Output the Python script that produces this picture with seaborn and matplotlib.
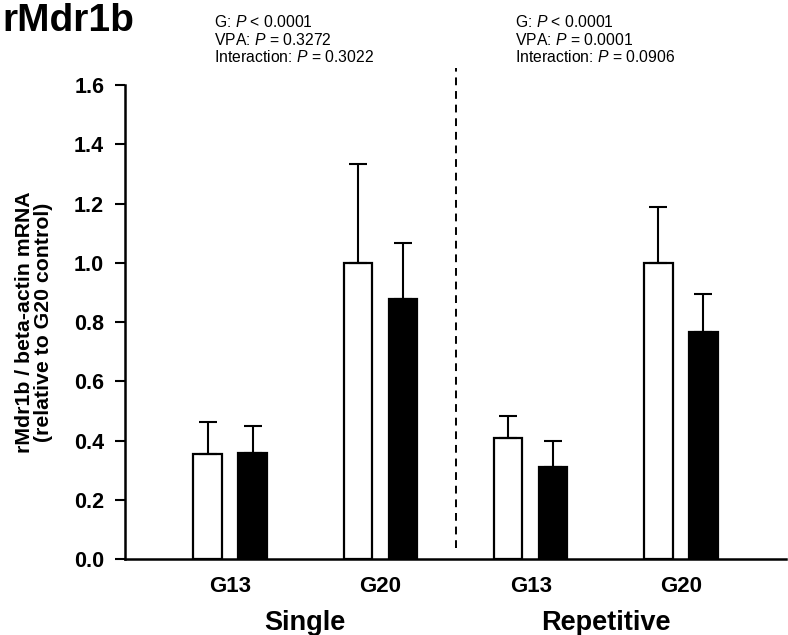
import pandas as pd
import seaborn as sns
import matplotlib.pyplot as plt
import numpy as np

# Data
groups = ['Single G13', 'Single G20', 'Repetitive G13', 'Repetitive G20']
tick_labels = ['G13', 'G20', 'G13', 'G20']
protocols = ['Single', 'Repetitive']
control = [0.355, 1.0, 0.41, 1.0]
control_err = [0.108, 0.335, 0.074, 0.19]
vpa = [0.358, 0.877, 0.31, 0.767]
vpa_err = [0.09, 0.19, 0.088, 0.128]
stats_text = [
    ['G: $\\it{P}$ < 0.0001', 'VPA: $\\it{P}$ = 0.3272', 'Interaction: $\\it{P}$ = 0.3022'],
    ['G: $\\it{P}$ < 0.0001', 'VPA: $\\it{P}$ = 0.0001', 'Interaction: $\\it{P}$ = 0.0906'],
]

df = pd.DataFrame({
    'group': groups * 2,
    'treatment': ['Control'] * 4 + ['VPA'] * 4,
    'value': control + vpa,
    'err': control_err + vpa_err,
})

sns.set_style('white', {'text.color': 'black', 'axes.labelcolor': 'black',
                        'xtick.color': 'black', 'ytick.color': 'black',
                        'axes.edgecolor': 'black'})
plt.rcParams['font.family'] = ['Liberation Sans', 'DejaVu Sans']
plt.rcParams['mathtext.fontset'] = 'custom'
plt.rcParams['mathtext.it'] = 'Liberation Sans:italic'
plt.rcParams['mathtext.rm'] = 'Liberation Sans'

fig = plt.figure(figsize=(7.88, 6.35), dpi=100)
ax = fig.add_axes([0.1586, 0.1197, 0.839, 0.7463])

sns.barplot(data=df, x='group', y='value', hue='treatment', order=groups,
            palette=['white', 'black'], edgecolor='black', linewidth=1.6,
            width=0.6, gap=0.37, errorbar=None, legend=False, ax=ax)

# upward-only error bars on top of each bar
for container, lvl in zip(ax.containers, ['Control', 'VPA']):
    sub = df[df['treatment'] == lvl].set_index('group').loc[groups]
    xs = [p.get_x() + p.get_width() / 2 for p in container]
    ax.errorbar(xs, sub['value'], yerr=[np.zeros(len(xs)), sub['err']],
                fmt='none', ecolor='black', elinewidth=1.5, capsize=6.5,
                capthick=1.5, zorder=1)

ax.set_xlim(-0.7, 3.7)
ax.set_ylim(0, 1.6)
ax.set_yticks(np.arange(0, 1.61, 0.2))
ax.set_yticklabels([f'{v:.1f}' for v in np.arange(0, 1.61, 0.2)],
                   fontsize=15.5, fontweight='bold')
ax.set_xticks(range(4))
ax.set_xticklabels(tick_labels, fontsize=16, fontweight='bold')
ax.tick_params(axis='y', direction='out', length=7, width=1.5, left=True, pad=8)
ax.tick_params(axis='x', length=0, pad=12)
ax.set_xlabel('')
ax.set_ylabel('rMdr1b / beta-actin mRNA\n(relative to G20 control)',
              fontsize=15.3, fontweight='bold', labelpad=15, linespacing=1.0)
sns.despine(ax=ax)
for s in ['left', 'bottom']:
    ax.spines[s].set_linewidth(1.8)
    ax.spines[s].set_color('black')

# separator between protocols
ax.axvline(1.5, ymin=0.023, ymax=1.036, color='black', lw=1.4,
           ls=(0, (4, 3)), clip_on=False)

# protocol labels under the groups
for i, name in enumerate(protocols):
    ax.text(2 * i + 0.5, -0.108, name, transform=ax.get_xaxis_transform(),
            ha='center', va='top', fontsize=19.5, fontweight='bold')

# stats text above each half
for i, lines in enumerate(stats_text):
    ax.text(2 * i - 0.105, 1.15, '\n'.join(lines), transform=ax.get_xaxis_transform(),
            ha='left', va='top', fontsize=11.3, linespacing=1.12)

fig.text(0.003, 0.996, 'rMdr1b', fontsize=28, fontweight='bold', ha='left', va='top')

fig.savefig('out.png', dpi=100)
